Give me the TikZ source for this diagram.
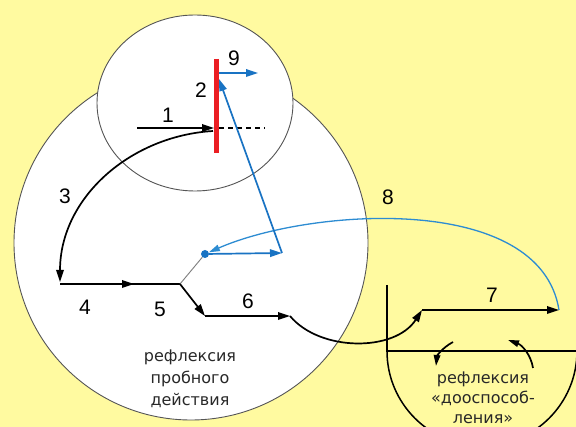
\documentclass[tikz,border=0pt]{standalone}
\usepackage{fontspec}
\setmainfont{DejaVu Sans}
\newfontfamily\numfont{Liberation Sans}
\usetikzlibrary{arrows.meta}
\definecolor{bgyellow}{RGB}{255,250,160}
\definecolor{myblue}{RGB}{25,115,195}
\definecolor{arcblue}{RGB}{45,140,210}
\definecolor{myred}{RGB}{235,30,35}
\definecolor{outlinegray}{RGB}{85,85,85}
\definecolor{txtgray}{RGB}{40,40,40}
\begin{document}
\begin{tikzpicture}[x=1pt,y=-1pt,
  num/.style={font=\numfont\fontsize{21}{24}\selectfont, inner sep=0pt},
  lbl/.style={font=\fontsize{16}{22}\selectfont, text=txtgray, align=center, inner sep=0pt},
  blk/.style={draw=black, line width=1.7pt},
  bl/.style={draw=myblue, line width=1.7pt},
  tip/.style={-{Triangle[length=12pt,width=7.5pt]}},
  smalltip/.style={-{Triangle[length=11pt,width=6.5pt]}},
  ]
\useasboundingbox (0,0) rectangle (576,427);
\fill[bgyellow] (0,0) rectangle (576,427);
\begin{scope}
  \clip (0,0) rectangle (576,427);
  \draw[outlinegray, line width=0.9pt, fill=white] (191,243) circle (177pt);
  \draw[outlinegray, line width=0.9pt, fill=white] (195,103) ellipse (98pt and 88pt);
  % half circle of the second reflection
  \draw[black, line width=1.5pt] (387,351) arc[start angle=180, end angle=360, radius=95pt];
  \draw[black, line width=1.5pt] (387,285) -- (387,351) -- (580,351);
\end{scope}

% named points
\coordinate (a1s) at (137,128);
\coordinate (hit) at (214,128);
\coordinate (rtop) at (216,59);
\coordinate (rbot) at (216,153);
\coordinate (dashS) at (219,128);
\coordinate (dashE) at (265,128);
\coordinate (c3s) at (213,131);
\coordinate (c3e) at (60,282);
\coordinate (p4) at (60,284);
\coordinate (m4) at (134,284);
\coordinate (j5) at (180,284);
\coordinate (p6) at (205,316);
\coordinate (e6) at (290,316);
\coordinate (p7) at (422,310);
\coordinate (e7) at (559,310);
\coordinate (bA) at (282,253);
\coordinate (bT) at (219,79);
\coordinate (b9s) at (219,73);
\coordinate (b9e) at (258,73);
\coordinate (lA) at (453,342);
\coordinate (lB) at (436,366);
\coordinate (rA) at (533,368);
\coordinate (rB) at (508,340);
\node[circle, fill=myblue, inner sep=0pt, minimum size=8pt] (dot) at (205,254) {};

% red line and arrow 1
\draw[black, line width=1.2pt, dash pattern=on 5pt off 4pt] (dashS) -- (dashE);
\draw[blk, tip] (a1s) -- (hit);
\draw[myred, line width=5pt] (rtop) -- (rbot);

% black chain
\draw[blk, tip] (c3s) .. controls (130,136) and (60,198) .. (c3e);
\draw[blk] (p4) -- (j5);
\draw[blk, tip] (p4) -- (m4);
\draw[gray, line width=0.9pt] (j5) -- (dot);
\draw[blk, tip] (j5) -- (p6);
\draw[blk, tip] (p6) -- (e6);
\draw[blk, tip] (e6) .. controls (320,352) and (395,352) .. (p7);
\draw[blk, tip] (p7) -- (e7);
\draw[blk, smalltip] (lA) .. controls (442,348) and (437,356) .. (lB);
\draw[blk, smalltip] (rA) .. controls (531,355) and (522,345) .. (rB);

% blue
\draw[arcblue, line width=1.3pt, smalltip] (e7) .. controls (540,192) and (310,208) .. (dot);
\draw[bl, tip] (dot) -- (bA);
\draw[bl, tip] (bA) -- (bT);
\draw[bl, tip] (b9s) -- (b9e);

% numbers
\node[num] (n1) at (168,115) {1};
\node[num] (n2) at (201,90) {2};
\node[num] (n9) at (234,58) {9};
\node[num] (n3) at (65,196) {3};
\node[num] (n4) at (85,307) {4};
\node[num] (n5) at (160,309) {5};
\node[num] (n6) at (248,301) {6};
\node[num] (n7) at (492,295) {7};
\node[num] (n8) at (388,197) {8};

% labels
\node[lbl] (t1) at (190,379) {рефлексия\\пробного\\действия};
\node[lbl, font=\fontsize{16}{20}\selectfont] (t2) at (483,398) {рефлексия\\«дооспособ-\\ления»};
\end{tikzpicture}
\end{document}
